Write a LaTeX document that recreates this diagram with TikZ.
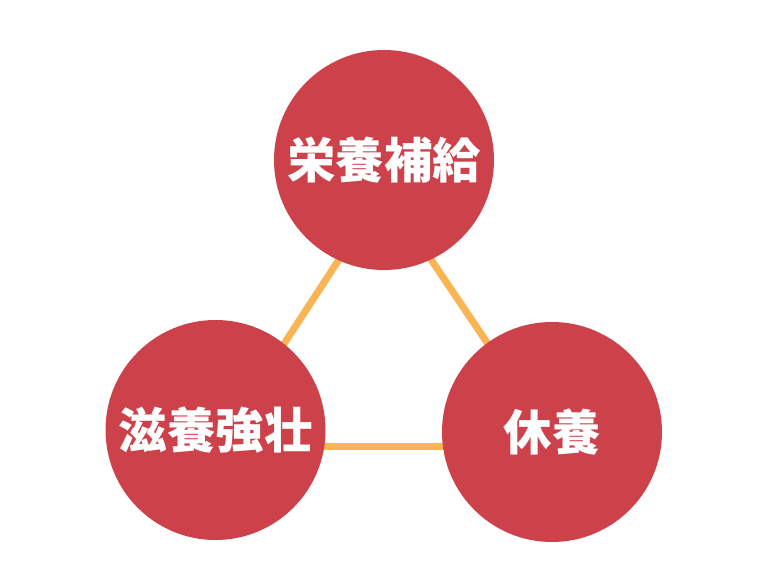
\documentclass[tikz,border=0pt]{standalone}
\usepackage{fontspec}
\newfontfamily\cjk{Noto Sans CJK JP}
\definecolor{circred}{HTML}{CC414A}
\definecolor{linkorange}{HTML}{FBB454}
\begin{document}
\begin{tikzpicture}[x=1pt,y=1pt,
  bubble/.style={circle,fill=circred,minimum size=220pt,inner sep=0pt,text=white,font=\cjk\bfseries\fontsize{48.5}{48.5}\selectfont},
  link/.style={draw=linkorange,line width=7pt}]
\useasboundingbox (0,0) rectangle (768,560);
\coordinate (la) at (340,302);
\coordinate (lb) at (280,210);
\coordinate (ra) at (430,302);
\coordinate (rb) at (492,210);
\coordinate (ba) at (300,114);
\coordinate (bb) at (470,114);
\draw[link] (la) -- (lb);
\draw[link] (ra) -- (rb);
\draw[link] (ba) -- (bb);
\node[bubble] (top) at (384,400) {栄養補給};
\node[bubble] (left) at (215.5,130) {滋養強壮};
\node[bubble] (right) at (552,128) {休養};
\end{tikzpicture}
\end{document}
